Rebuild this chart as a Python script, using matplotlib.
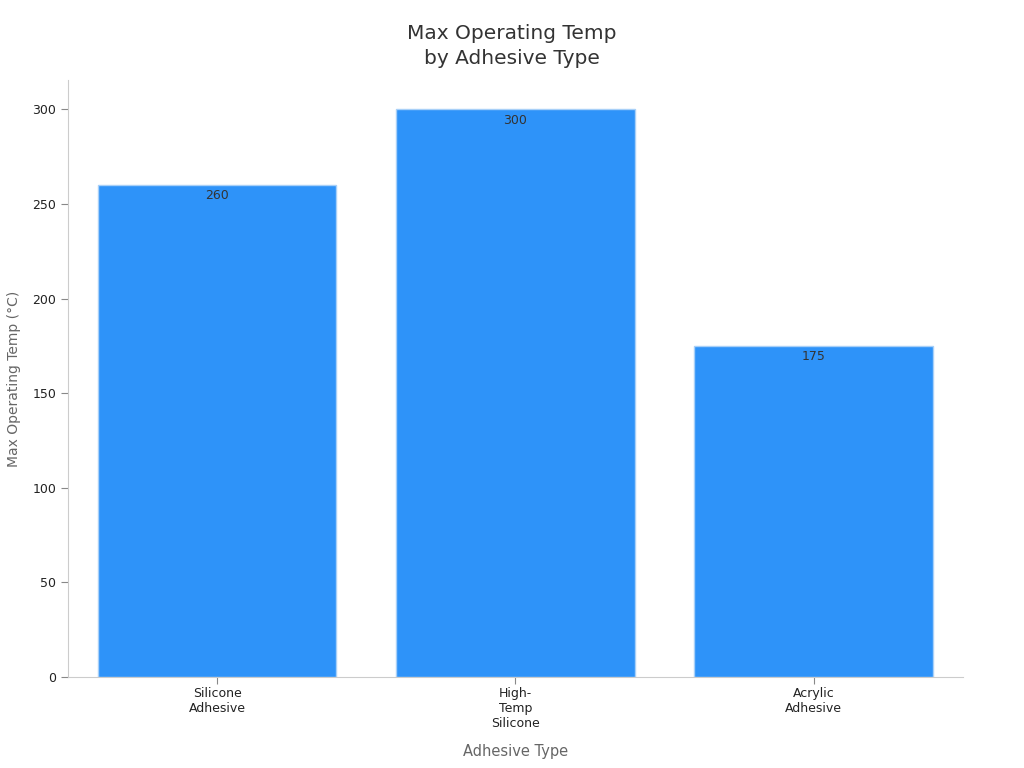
import matplotlib
matplotlib.use("Agg")
import matplotlib.pyplot as plt

categories = ["Silicone\nAdhesive", "High-\nTemp\nSilicone", "Acrylic\nAdhesive"]
values = [260, 300, 175]

fig = plt.figure(figsize=(10.24, 7.68), dpi=100)
ax = fig.add_axes([0.0664, 0.1185, 0.874, 0.7773])
x = list(range(len(categories)))
bars = ax.bar(x, values, width=0.8, color="#2E93F9", edgecolor="#A8D0F8", linewidth=1)
for xi, v in zip(x, values):
    ax.annotate(str(v), (xi, v), xytext=(0, -3), textcoords="offset points",
                ha="center", va="top", fontsize=9, color="#333333")
ax.set_xlim(-0.5, 2.5)
ax.set_ylim(0, 315.5)
ax.set_xticks(x)
ax.set_xticklabels(categories, fontsize=9, color="#222222")
ax.set_yticks([0, 50, 100, 150, 200, 250, 300])
ax.tick_params(axis="y", labelsize=9, labelcolor="#222222", color="#888888", length=5)
ax.tick_params(axis="x", color="#888888", length=5, pad=2)
for s in ["top", "right"]:
    ax.spines[s].set_visible(False)
for s in ["left", "bottom"]:
    ax.spines[s].set_color("#CCCCCC")
ax.set_xlabel("Adhesive Type", fontsize=10.5, color="#666666", labelpad=10)
ax.set_ylabel("Max Operating Temp (°C)", fontsize=10, color="#666666", labelpad=8)
fig.text(0.5, 0.94, "Max Operating Temp\nby Adhesive Type", fontsize=14.5, color="#333333",
         ha="center", va="center", linespacing=1.45)
fig.savefig("out.png", dpi=100)
